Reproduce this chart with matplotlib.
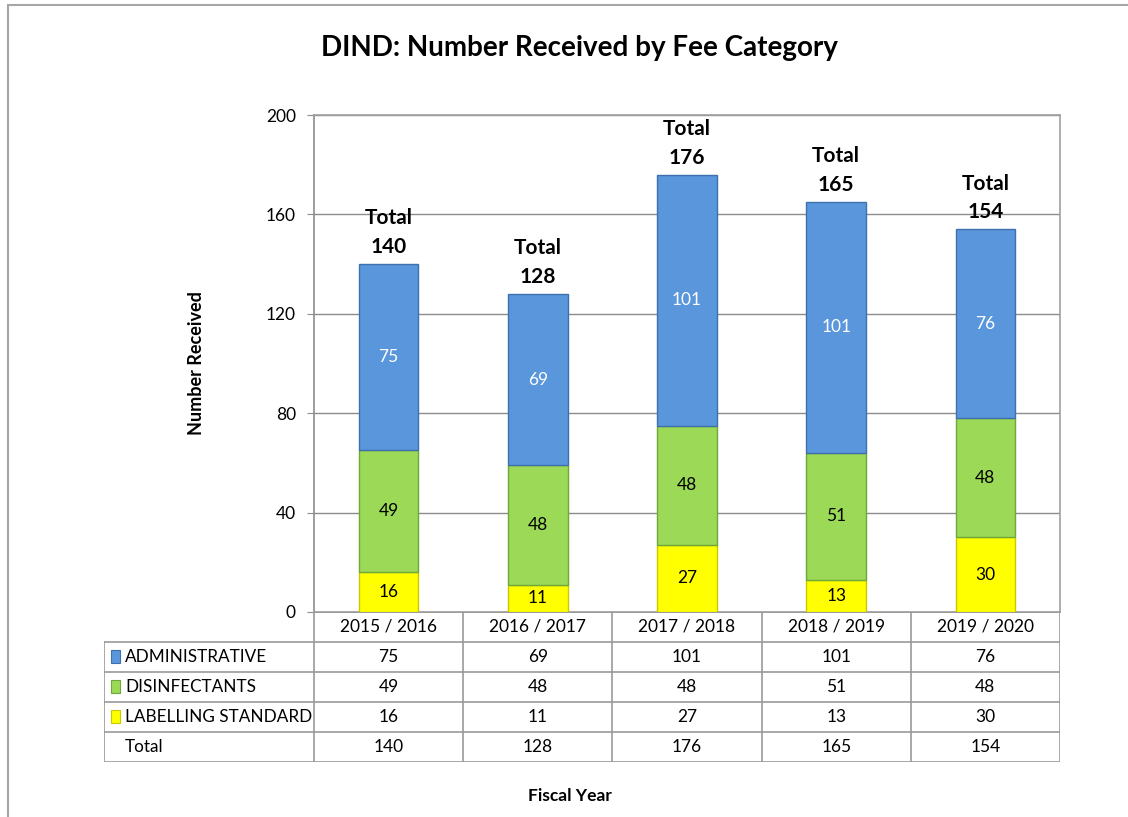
import matplotlib.pyplot as plt
import numpy as np
from matplotlib.patches import Rectangle

plt.rcParams['font.family'] = ['Lato', 'DejaVu Sans']

years = ['2015 / 2016', '2016 / 2017', '2017 / 2018', '2018 / 2019', '2019 / 2020']
administrative = [75, 69, 101, 101, 76]
disinfectants = [49, 48, 48, 51, 48]
labelling = [16, 11, 27, 13, 30]
series_names = ['ADMINISTRATIVE', 'DISINFECTANTS', 'LABELLING STANDARD']
series_colors = ['#5A96DC', '#9BD956', '#FFFF00']
edge_colors = ['#3E70AE', '#6EA83A', '#C9C900']

W, H = 1128, 817


def fx(px):
    return px / W


def fy(py):
    return 1 - py / H


fig = plt.figure(figsize=(W / 100, H / 100), dpi=100)
fig.patches.append(Rectangle((fx(8), fy(830)), 1.1, fy(5) - fy(830), transform=fig.transFigure,
                             fill=False, edgecolor='#A6A6A6', lw=1.5))

# main plot
left, right, top, bottom = 314, 1060, 115, 612
ax = fig.add_axes([fx(left), fy(bottom), fx(right - left), fy(top) - fy(bottom)])
x = np.arange(len(years))
lab = np.array(labelling)
dis = np.array(disinfectants)
adm = np.array(administrative)
totals = lab + dis + adm
bw = 0.4
ax.bar(x, lab, bw, color=series_colors[2], edgecolor=edge_colors[2], lw=1, zorder=3)
ax.bar(x, dis, bw, bottom=lab, color=series_colors[1], edgecolor=edge_colors[1], lw=1, zorder=3)
ax.bar(x, adm, bw, bottom=lab + dis, color=series_colors[0], edgecolor=edge_colors[0], lw=1, zorder=3)
for i in range(len(years)):
    ax.text(x[i], lab[i] / 2, str(lab[i]), ha='center', va='center', fontsize=12.5, color='black', zorder=4)
    ax.text(x[i], lab[i] + dis[i] / 2, str(dis[i]), ha='center', va='center', fontsize=12.5, color='black', zorder=4)
    ax.text(x[i], lab[i] + dis[i] + adm[i] / 2, str(adm[i]), ha='center', va='center', fontsize=12.5,
            color='white', zorder=4)
    ax.annotate(f'Total\n{totals[i]}', (x[i], totals[i]), xytext=(0, 5), textcoords='offset points',
                ha='center', va='bottom', fontsize=15, fontweight='bold', linespacing=1.55, zorder=4)
ax.set_xlim(-0.5, 4.5)
ax.set_ylim(0, 200)
ax.set_yticks(np.arange(0, 201, 40))
ax.set_xticks([])
ax.tick_params(axis='y', labelsize=12.5, length=5, color='#8C8C8C', pad=8)
ax.grid(axis='y', color='#8C8C8C', lw=1, zorder=0)
for s in ax.spines.values():
    s.set_color('#A0A0A0')
    s.set_linewidth(1.2)
ax.spines['left'].set_color('#8C8C8C')
ax.set_ylabel('Number Received', fontsize=13, fontweight='bold', labelpad=44)

# data table
tleft, tbottom = 104, 762
tab = fig.add_axes([fx(tleft), fy(tbottom), fx(right - tleft), fy(bottom) - fy(tbottom)])
colw = (right - left) / len(years)
x0 = -0.5 - (left - tleft) / colw
tab.set_xlim(x0, 4.5)
tab.set_ylim(5, 0)
tab.axis('off')
lc = '#999999'
tab.plot([-0.5, 4.5], [0, 0], color=lc, lw=1.2)
for r in range(1, 6):
    tab.plot([x0, 4.5], [r, r], color=lc, lw=1.2)
for c in np.arange(-0.5, 4.6, 1.0):
    tab.plot([c, c], [0, 5], color=lc, lw=1.2)
tab.plot([x0, x0], [1, 5], color=lc, lw=1.2)
for i, yr in enumerate(years):
    tab.text(i, 0.5, yr, ha='center', va='center', fontsize=12.5)
rows = [administrative, disinfectants, labelling, list(totals)]
names = series_names + ['Total']
for r, (name, vals) in enumerate(zip(names, rows)):
    yy = r + 1.5
    if r < 3:
        tab.add_patch(Rectangle((x0 + 0.05, yy - 0.22), 0.06, 0.42, facecolor=series_colors[r],
                                edgecolor=edge_colors[r], lw=0.8))
    tab.text(x0 + 0.14, yy, name, ha='left', va='center', fontsize=12.3)
    for i, v in enumerate(vals):
        tab.text(i, yy, str(v), ha='center', va='center', fontsize=12.5)

fig.text(fx(579), fy(48), 'DIND: Number Received by Fee Category', ha='center', va='center',
         fontsize=20, fontweight='bold')
fig.text(fx(570), fy(796), 'Fiscal Year', ha='center', va='center', fontsize=12.5, fontweight='bold')

fig.savefig('out.png', dpi=100)
